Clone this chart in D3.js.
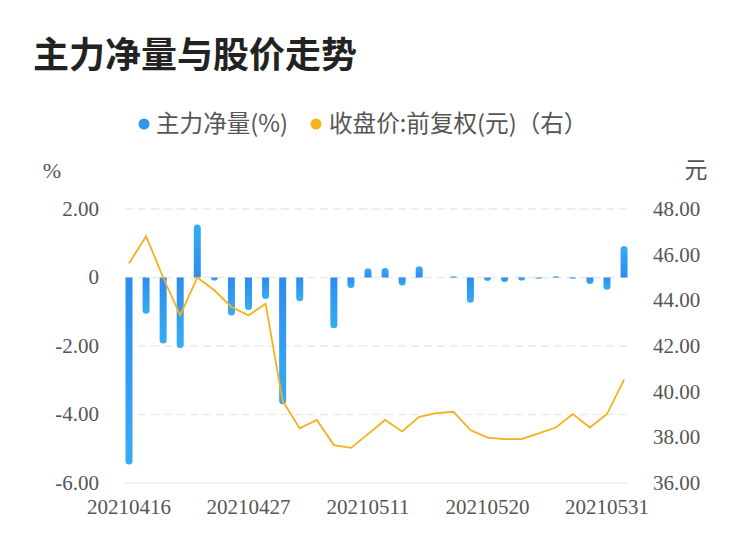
<!DOCTYPE html>
<html><head><meta charset="utf-8">
<script src="https://cdn.jsdelivr.net/npm/d3@7/dist/d3.min.js"></script>
<style>
body{margin:0;background:#fff;}
svg{display:block;}
</style></head>
<body><svg id="c" width="750" height="558"></svg>
<script>
const dates = ["20210416","20210419","20210420","20210421","20210422","20210423","20210426","20210427","20210428","20210429","20210430","20210506","20210507","20210510","20210511","20210512","20210513","20210514","20210517","20210518","20210519","20210520","20210521","20210524","20210525","20210526","20210527","20210528","20210531","20210601"];
const netVolume = [-5.46,-1.06,-1.93,-2.06,1.55,-0.09,-1.11,-0.95,-0.63,-3.70,-0.69,0,-1.48,-0.31,0.27,0.28,-0.23,0.33,0,0.03,-0.74,-0.10,-0.13,-0.09,-0.03,0.03,-0.03,-0.19,-0.36,0.92];
const closePrice = [45.61,46.81,45.0,43.34,45.0,44.44,43.71,43.34,43.85,39.6,38.39,38.76,37.66,37.54,38.14,38.76,38.26,38.9,39.06,39.12,38.32,37.99,37.92,37.92,38.17,38.43,39.02,38.43,39.02,40.53];
const leftTicks = [2,0,-2,-4,-6];
const rightTicks = [48,46,44,42,40,38,36];
const xLabelDates = ["20210416","20210427","20210511","20210520","20210531"];

const svg = d3.select("#c");
const serif = "'Liberation Serif','DejaVu Serif',serif";
const sans = "'Noto Sans CJK SC','Noto Sans',sans-serif";

const x = d3.scaleBand().domain(dates).range([120.47, 632.6]).padding(0);
const yL = d3.scaleLinear().domain([-6, 2]).range([483, 209]);
const yR = d3.scaleLinear().domain([36, 48]).range([483, 209]);
const cx = d => x(d) + x.bandwidth() / 2;

// gradients
const defs = svg.append("defs");
const gNeg = defs.append("linearGradient").attr("id","gNeg").attr("x1",0).attr("y1",0).attr("x2",0).attr("y2",1);
gNeg.append("stop").attr("offset","0%").attr("stop-color","#2C8BF0");
gNeg.append("stop").attr("offset","100%").attr("stop-color","#36ADF3");
const gPos = defs.append("linearGradient").attr("id","gPos").attr("x1",0).attr("y1",1).attr("x2",0).attr("y2",0);
gPos.append("stop").attr("offset","0%").attr("stop-color","#2C8BF0");
gPos.append("stop").attr("offset","100%").attr("stop-color","#36ADF3");

// title
svg.append("text").attr("x",33).attr("y",68).attr("font-family",sans).attr("font-weight","bold")
  .attr("font-size",36).attr("fill","#222").text("主力净量与股价走势");

// legend
svg.append("circle").attr("cx",144).attr("cy",124).attr("r",5.5).attr("fill","#2C97F0");
svg.append("text").attr("x",156).attr("y",124).attr("dy","0.35em").attr("font-family",sans)
  .attr("font-size",23.6).attr("fill","#555").text("主力净量(%)");
svg.append("circle").attr("cx",316).attr("cy",124).attr("r",5.5).attr("fill","#F7B51C");
svg.append("text").attr("x",329).attr("y",124).attr("dy","0.35em").attr("font-family",sans)
  .attr("font-size",23.6).attr("fill","#555").text("收盘价:前复权(元)（右）");

// axis unit labels
svg.append("text").attr("x",52).attr("y",170).attr("dy","0.35em").attr("text-anchor","middle")
  .attr("font-family",serif).attr("font-size",22).attr("fill","#555").text("%");
svg.append("text").attr("x",696).attr("y",170).attr("dy","0.35em").attr("text-anchor","middle")
  .attr("font-family",sans).attr("font-size",23).attr("fill","#555").text("元");

// grid
const gx0 = 125, gx1 = 627;
svg.append("g").selectAll("line").data(leftTicks.filter(t => t !== -6)).join("line")
  .attr("x1",gx0).attr("x2",gx1).attr("y1",d=>yL(d)).attr("y2",d=>yL(d))
  .attr("stroke","#e9e9e9").attr("stroke-width",1.5).attr("stroke-dasharray","8,5");
svg.append("line").attr("x1",gx0).attr("x2",gx1).attr("y1",yL(-6)).attr("y2",yL(-6))
  .attr("stroke","#ececec").attr("stroke-width",1.5);

// left ticks
svg.append("g").selectAll("text").data(leftTicks).join("text")
  .attr("x",99).attr("y",d=>yL(d)).attr("dy","0.33em").attr("text-anchor","end")
  .attr("font-family",serif).attr("font-size",21).attr("fill","#555")
  .text(d => d === 0 ? "0" : d3.format(".2f")(d).replace("−","-"));
// right ticks
svg.append("g").selectAll("text").data(rightTicks).join("text")
  .attr("x",653).attr("y",d=>yR(d)).attr("dy","0.33em").attr("text-anchor","start")
  .attr("font-family",serif).attr("font-size",21).attr("fill","#555")
  .text(d => d3.format(".2f")(d));
// x labels
svg.append("g").selectAll("text").data(xLabelDates).join("text")
  .attr("x",d=>cx(d)).attr("y",514).attr("text-anchor","middle")
  .attr("font-family",serif).attr("font-size",21).attr("fill","#555").text(d=>d);

// bars
const bw = 7, r = 3.5;
function barPath(d, v) {
  const xc = cx(d), x0 = xc - bw/2, x1 = xc + bw/2;
  const y0 = yL(0);
  if (v === 0) return null;
  let y1 = yL(v);
  if (Math.abs(y1 - y0) < 1.2) y1 = v < 0 ? y0 + 1.2 : y0 - 1.2;
  const h = Math.abs(y1 - y0);
  const rr = Math.min(r, h);
  if (v < 0) {
    return `M${x0},${y0}L${x1},${y0}L${x1},${y1-rr}A${bw/2},${rr} 0 0 1 ${x0},${y1-rr}Z`;
  } else {
    return `M${x0},${y0}L${x1},${y0}L${x1},${y1+rr}A${bw/2},${rr} 0 0 0 ${x0},${y1+rr}Z`;
  }
}
svg.append("g").selectAll("path").data(dates.map((d,i)=>({d, v: netVolume[i]}))).join("path")
  .attr("d", o => barPath(o.d, o.v))
  .attr("fill", o => o.v < 0 ? "url(#gNeg)" : "url(#gPos)");

// line
const line = d3.line().x((v,i)=>cx(dates[i])).y(v=>yR(v));
svg.append("path").datum(closePrice).attr("d", line).attr("fill","none")
  .attr("stroke","#F5B01E").attr("stroke-width",1.8).attr("stroke-linejoin","miter");
</script></body></html>
